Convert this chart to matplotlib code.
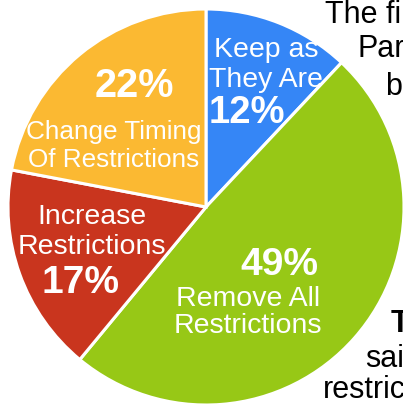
import matplotlib
matplotlib.use("Agg")
import matplotlib.pyplot as plt

plt.rcParams['font.family'] = ['Liberation Sans', 'DejaVu Sans']

categories = ["Keep as\nThey Are", "Remove All\nRestrictions", "Increase\nRestrictions", "Change Timing\nOf Restrictions"]
values = [12, 49, 17, 22]
pct_labels = ["12%", "49%", "17%", "22%"]
colors = ["#3586f6", "#97c816", "#c9351e", "#fbb932"]

W, H = 403, 405
fig = plt.figure(figsize=(W / 100, H / 100), dpi=100)
ax = fig.add_axes([0, 0, 1, 1])

# Background paragraph text (partly hidden behind the pie)
bg_lines = [("The first", 325, 23, "normal"),
            ("Part", 357, 57, "normal"),
            ("b", 385, 95, "normal"),
            ("T", 391, 332, "bold"),
            ("sai", 365, 367, "normal"),
            ("restric", 323, 398, "normal")]
for txt, x, y, w in bg_lines:
    ax.text(x, y, txt, fontsize=22, fontweight=w, color="black", ha="left",
            va="baseline", zorder=0.5)

ax.pie(values, colors=colors, startangle=-90, counterclock=True,
       center=(206, 207), radius=198,
       wedgeprops=dict(edgecolor="white", linewidth=2.2))

# Labels: (x center, baselines, fontsize) and percent (x center, baseline, fontsize)
label_pos = [
    ((266, [57, 87], 20.5), (247, 123, 27.5)),
    ((248, [306, 333], 20.5), (279, 275, 28)),
    ((92, [224, 254], 20.5), (81, 293, 28)),
    ((114, [139, 167], 18.8), (134, 97, 28.5)),
]
for cat, pct, ((lx, lys, lfs), (px, py, pfs)) in zip(categories, pct_labels, label_pos):
    for line, ly in zip(cat.split("\n"), lys):
        ax.text(lx, ly, line, fontsize=lfs, color="white", ha="center", va="baseline", zorder=3)
    ax.text(px, py, pct, fontsize=pfs, fontweight="bold", color="white", ha="center", va="baseline", zorder=3)

ax.set_xlim(0, W)
ax.set_ylim(H, 0)
ax.set_aspect("equal")
ax.axis("off")
fig.savefig("out.png", dpi=100)
